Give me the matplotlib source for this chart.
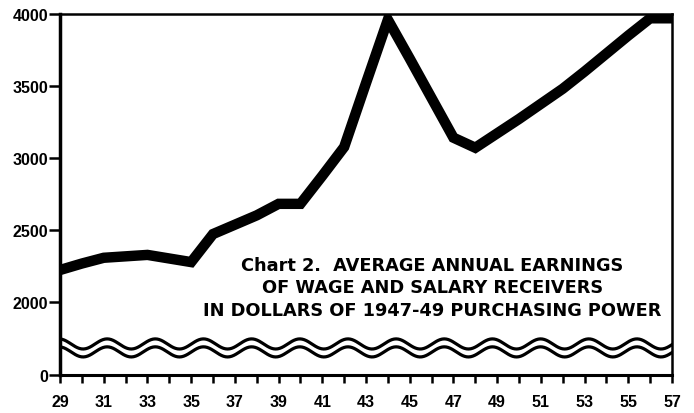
import numpy as np
import matplotlib
matplotlib.use("Agg")
import matplotlib.pyplot as plt

# Average annual earnings, 1947-49 dollars
years = list(range(29, 58))
earnings = [2220, 2265, 2305, 2315, 2325, 2300, 2275, 2470, 2535, 2600,
            2680, 2680, 2875, 3075, 3520, 3960, 3690, 3415, 3140, 3070,
            3170, 3270, 3375, 3480, 3600, 3725, 3850, 3970, 3970]

# y axis is broken: "0" sits where 1490 would be on the upper scale
zero_pos = 1490
ytick_pos = [zero_pos, 2000, 2500, 3000, 3500, 4000]
ytick_labels = ["0", "2000", "2500", "3000", "3500", "4000"]

xtick_labels = [str(y) if y % 2 == 1 else "" for y in years]

title_lines = ["Chart 2.  AVERAGE ANNUAL EARNINGS",
               "OF WAGE AND SALARY RECEIVERS",
               "IN DOLLARS OF 1947-49 PURCHASING POWER"]

tick_font = ["Liberation Sans", "DejaVu Sans"]

fig = plt.figure(figsize=(6.94, 4.14), dpi=100)
ax = fig.add_axes([0.0865, 0.0918, 0.8818, 0.872])

ax.plot(years, earnings, color="black", linewidth=7.5,
        solid_joinstyle="miter", solid_capstyle="butt", zorder=3)

ax.set_xlim(29, 57)
ax.set_ylim(zero_pos, 4000)

ax.set_xticks(years)
ax.set_xticklabels(xtick_labels, fontsize=11.5, fontweight="bold", family=tick_font)
ax.set_yticks(ytick_pos)
ax.set_yticklabels(ytick_labels, fontsize=11.5, fontweight="bold", family=tick_font)
ax.tick_params(axis="x", direction="out", length=6, width=1.8, pad=8)
ax.tick_params(axis="y", direction="out", length=8, width=1.8, pad=0.5)

ax.spines["left"].set_linewidth(2.5)
ax.spines["bottom"].set_linewidth(2.2)
ax.spines["top"].set_linewidth(1.8)
ax.spines["right"].set_linewidth(1.8)

# wavy break marks just above the zero line
xs = np.linspace(0, 1, 600)
for yc in (0.086, 0.064):
    ys = yc + 0.014 * np.cos(2 * np.pi * (xs - 0.077) / 0.0787)
    ax.plot(xs, ys, color="black", linewidth=2.3, transform=ax.transAxes)

for txt, yb in zip(title_lines, (0.291, 0.230, 0.166)):
    ax.text(0.608, yb, txt, transform=ax.transAxes, ha="center", va="baseline",
            fontsize=12.8, fontweight="bold", family="DejaVu Sans")

fig.savefig("out.png", dpi=100)
